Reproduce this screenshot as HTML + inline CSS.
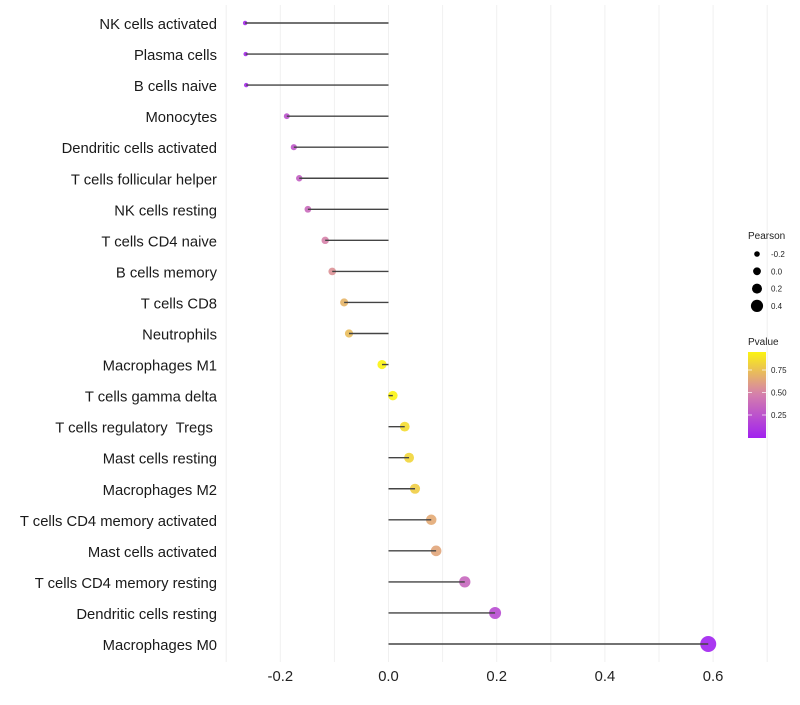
<!DOCTYPE html>
<html><head><meta charset="utf-8"><style>
body{margin:0;background:#fff;font-family:"Liberation Sans",sans-serif}
svg text{font-family:"Liberation Sans",sans-serif;white-space:pre}
</style></head><body>
<svg id="chart" width="800" height="700"></svg>
<script>
const categories=["NK cells activated","Plasma cells","B cells naive","Monocytes","Dendritic cells activated","T cells follicular helper","NK cells resting","T cells CD4 naive","B cells memory","T cells CD8","Neutrophils","Macrophages M1","T cells gamma delta","T cells regulatory  Tregs ","Mast cells resting","Macrophages M2","T cells CD4 memory activated","Mast cells activated","T cells CD4 memory resting","Dendritic cells resting","Macrophages M0"];
const pearson=[-0.265,-0.264,-0.263,-0.188,-0.175,-0.165,-0.149,-0.117,-0.104,-0.082,-0.073,-0.012,0.008,0.030,0.038,0.049,0.079,0.088,0.141,0.197,0.591];
const pvalue=[0.04,0.05,0.05,0.25,0.28,0.32,0.38,0.50,0.56,0.70,0.73,0.95,0.95,0.86,0.83,0.80,0.66,0.64,0.36,0.22,0.01];
const xTicks=[-0.2,0.0,0.2,0.4,0.6];
const sizeLegend=[-0.2,0.0,0.2,0.4];
const colorTicks=[0.25,0.50,0.75];
const NS="http://www.w3.org/2000/svg";
const svg=document.getElementById('chart');
function X(v){return 388.5+v*541;}
function Y(i){return 23+i*31.05;}
function R(v){return Math.sqrt(Math.max(5,22+71*v));}
function LR(v){return 3.9+5.5*v;}
function CB(p){return 352+(0.95-p)*90;}
function lerp(a,b,t){return Math.round(a+(b-a)*t);}
function col(p){const s=[[0,[160,32,240]],[0.5,[214,130,170]],[1,[255,255,0]]];p=Math.max(0,Math.min(1,p));let k=p<0.5?0:1;const t=(p-s[k][0])/(s[k+1][0]-s[k][0]);const a=s[k][1],b=s[k+1][1];return `rgb(${lerp(a[0],b[0],t)},${lerp(a[1],b[1],t)},${lerp(a[2],b[2],t)})`;}
function el(tag,attrs,parent){const e=document.createElementNS(NS,tag);for(const k in attrs)e.setAttribute(k,attrs[k]);(parent||svg).appendChild(e);return e;}
for(let v=-0.3;v<=0.7001;v+=0.1){const g=el('line',{x1:X(v),x2:X(v),y1:5,y2:662,stroke:'#f0f0f0','stroke-width':1});

}
xTicks.forEach(v=>{const t=el('text',{x:X(v),y:681,'font-size':14.8,'text-anchor':'middle',fill:'#222'});t.textContent=v.toFixed(1);

});
categories.forEach((c,i)=>{
const t=el('text',{x:217,y:Y(i)+6,'font-size':14.8,'text-anchor':'end',fill:'#1a1a1a'});t.textContent=c;


const p=el('circle',{cx:X(pearson[i]),cy:Y(i),r:R(pearson[i]),fill:col(pvalue[i]),'fill-opacity':0.9});


const l=el('line',{x1:X(0),x2:X(pearson[i]),y1:Y(i),y2:Y(i),stroke:'#444','stroke-width':1.4});


});
let t=el('text',{x:748,y:239,'font-size':10,fill:'#222'});t.textContent='Pearson';


sizeLegend.forEach((v,i)=>{const y=254+i*17.3;const c=el('circle',{cx:757,cy:y,r:LR(v),fill:'#000'});


const tt=el('text',{x:771,y:y+3,'font-size':8,fill:'#222'});tt.textContent=v.toFixed(1);

});
t=el('text',{x:748,y:345,'font-size':10,fill:'#222'});t.textContent='Pvalue';


const defs=el('defs',{});const lg=el('linearGradient',{id:'pg',x1:0,y1:1,x2:0,y2:0},defs);
for(let k=0;k<=10;k++){const p=0.005+k*0.0945;el('stop',{offset:k/10,'stop-color':col(p)},lg);}
const bar=el('rect',{x:748,y:352,width:18,height:86,fill:'url(#pg)'});


colorTicks.forEach(v=>{el('line',{x1:748,x2:752,y1:CB(v),y2:CB(v),stroke:'#fff','stroke-opacity':0.7});el('line',{x1:762,x2:766,y1:CB(v),y2:CB(v),stroke:'#fff','stroke-opacity':0.7});
const tt=el('text',{x:771,y:CB(v)+3,'font-size':8,fill:'#222'});tt.textContent=v.toFixed(2);

});
</script>
</body></html>
